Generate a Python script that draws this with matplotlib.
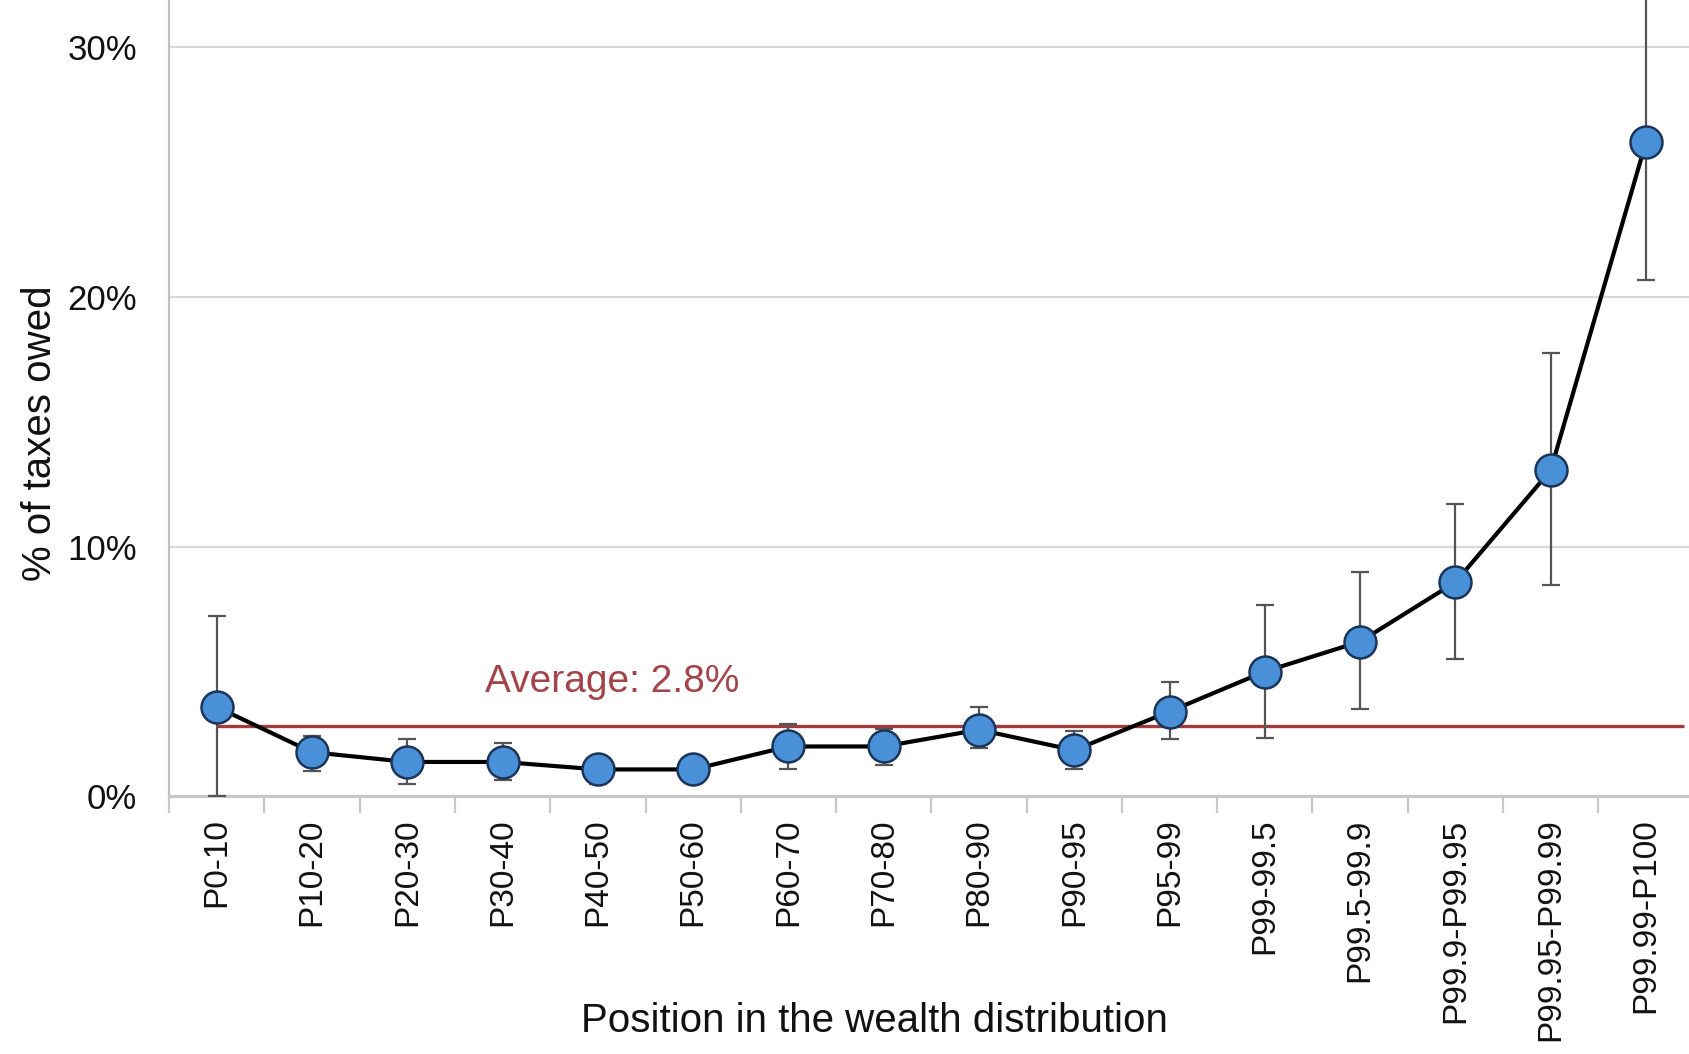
import numpy as np
import matplotlib.pyplot as plt
from matplotlib.ticker import FuncFormatter, MultipleLocator

plt.rcParams['font.family'] = ['Liberation Sans', 'DejaVu Sans']

#%% Data
groups = ['P0-10', 'P10-20', 'P20-30', 'P30-40', 'P40-50', 'P50-60', 'P60-70',
          'P70-80', 'P80-90', 'P90-95', 'P95-99', 'P99-99.5', 'P99.5-99.9',
          'P99.9-P99.95', 'P99.95-P99.99', 'P99.99-P100']
share    = [3.58, 1.77, 1.38, 1.38, 1.08, 1.08, 2.0, 2.0, 2.67, 1.85, 3.4,
            5.0, 6.2, 8.58, 13.06, 26.2]
err_high = [7.24, 2.4, 2.3, 2.15, 1.6, 1.4, 2.9, 2.7, 3.6, 2.6, 4.6,
            7.67, 8.97, 11.7, 17.76, 33.0]
err_low  = [0.0, 1.0, 0.5, 0.65, 0.5, 0.8, 1.1, 1.25, 1.95, 1.1, 2.3,
            2.33, 3.5, 5.5, 8.45, 20.7]
average = 2.8

#%% Plot
x = np.arange(len(groups))
share = np.array(share)
yerr = [share - np.array(err_low), np.array(err_high) - share]

fig = plt.figure(figsize=(16.9, 10.54), dpi=100)
ax = fig.add_axes([0.1001, 0.2444, 0.902, 0.7556])

ax.grid(axis='y', color='#d9d9d9', linewidth=1.6, zorder=0)
ax.hlines(average, 0, 15.4, color='#a03c3c', linewidth=2.4, zorder=2)
ax.text(4.15, 4.6, f'Average: {average}%', color='#a3444a', fontsize=28,
        ha='center', va='center')

ax.errorbar(x, share, yerr=yerr, fmt='none', ecolor='#555555', elinewidth=1.6,
            capsize=6.5, capthick=1.6, zorder=3)
ax.plot(x, share, color='black', linewidth=3.0, marker='o', markersize=23,
        markerfacecolor='#4a90d9', markeredgecolor='#1a3558',
        markeredgewidth=1.8, zorder=4)

ax.set_xlim(-0.5, 15.5)
ax.set_ylim(0, 31.9)
ax.yaxis.set_major_locator(MultipleLocator(10))
ax.yaxis.set_major_formatter(FuncFormatter(lambda v, p: f'{v:.0f}%'))
ax.tick_params(axis='y', length=0, pad=23, labelsize=25, labelcolor='#111111')

ax.set_xticks(x)
ax.set_xticklabels(groups, rotation=90, fontsize=24, color='#111111')
ax.set_xticks(np.arange(-0.5, 16, 1), minor=True)
ax.tick_params(axis='x', which='major', length=0, pad=16)
ax.tick_params(axis='x', which='minor', length=12, width=1.6, color='#c8c8c8',
               direction='out')

for side in ['top', 'right']:
    ax.spines[side].set_visible(False)
ax.spines['left'].set_color('#c0c0c0')
ax.spines['left'].set_linewidth(1.6)
ax.spines['bottom'].set_color('#c8c8c8')
ax.spines['bottom'].set_linewidth(2.2)

ax.set_xlabel('Position in the wealth distribution', fontsize=29, color='#111111')
ax.xaxis.set_label_coords(0.4625, -0.258)
ax.set_ylabel('% of taxes owed', fontsize=29, color='#111111')
ax.yaxis.set_label_coords(-0.072, 0.456)

fig.savefig('out.png', dpi=100)
